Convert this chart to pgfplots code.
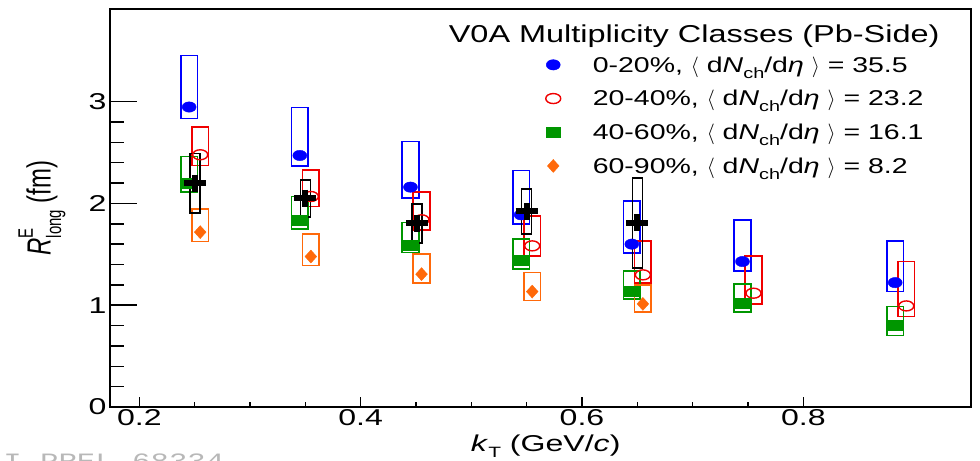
\documentclass[border=0pt]{standalone}
\usepackage{pgfplots}
\pgfplotsset{compat=1.18}
\usepackage{fontspec}
\setmainfont{Liberation Sans}[FakeStretch=1.4]
\newfontfamily\legfont{Liberation Sans}[FakeStretch=1.33]
\newfontfamily\plainsans{Liberation Sans}
\newfontfamily\wmfont{Liberation Mono}[FakeStretch=1.4]
\definecolor{cblue}{RGB}{0,0,255}
\definecolor{cred}{RGB}{240,0,0}
\definecolor{cgreen}{RGB}{0,150,0}
\definecolor{corange}{RGB}{255,105,10}
\newcommand{\sub}[1]{\raisebox{-0.55ex}{\fontsize{15}{15}\selectfont #1}}
\newcommand{\entry}[2]{#1, $\langle$ d\textit{N}\sub{ch}/d\textit{η} $\rangle$ = #2}
\newcommand{\sysbox}[5]{%
  \pgfmathsetmacro{\xl}{#2-#3}\pgfmathsetmacro{\xr}{#2+#3}%
  \edef\doplot{\noexpand\addplot[#1, forget plot, mark=none, line width=1.5bp, line cap=rect, line join=miter] coordinates {(\xl,#4) (\xr,#4) (\xr,#5) (\xl,#5) (\xl,#4)};}%
  \doplot}
\begin{document}
\begin{tikzpicture}
\begin{axis}[name=ax, at={(0,0)}, anchor=south west,
  scale only axis, width=861bp, height=398bp,
  xmin=0.1735, xmax=0.9515, ymin=0, ymax=3.91,
  xtick={0.2,0.4,0.6,0.8}, minor x tick num=3, ytick=\empty,
  tick pos=left, tick align=inside,
  major tick length=10bp, minor tick length=5bp,
  axis line style={line width=1.5bp},
  every tick/.style={black, line width=1.5bp},
  /pgf/number format/assume math mode=true,
  xticklabel style={font=\fontsize{23}{23}\selectfont, yshift=1.5bp},
  xlabel={\textit{k}\sub{T} (GeV/\textit{c})},
  xlabel style={font=\fontsize{23}{23}\selectfont, at={(axis description cs:0.506,-0.1106)}, anchor=base},
  legend cell align=left,
  legend image code/.code={\draw[#1] plot coordinates {(0bp,7bp)};},
  legend style={draw=none, fill=none, at={(axis description cs:0.5061,0.8844)}, anchor=north west,
    inner sep=0pt, outer sep=0pt, row sep=0pt,
    nodes={inner sep=0pt, text height=17bp, text depth=16.7bp, font=\legfont\fontsize{21.5}{21.5}\selectfont},
    /tikz/every odd column/.append style={column sep=32bp}},
]
% systematic boxes
% 0-20%
\sysbox{cblue}{0.245}{0.0075}{2.832}{3.451}
\sysbox{cblue}{0.345}{0.0075}{2.370}{2.943}
\sysbox{cblue}{0.445}{0.0075}{2.055}{2.609}
\sysbox{cblue}{0.545}{0.0075}{1.796}{2.324}
\sysbox{cblue}{0.645}{0.0075}{1.511}{2.026}
\sysbox{cblue}{0.745}{0.0075}{1.337}{1.839}
\sysbox{cblue}{0.883}{0.0075}{1.134}{1.632}
% 20-40%
\sysbox{cred}{0.255}{0.0075}{2.373}{2.750}
\sysbox{cred}{0.355}{0.0075}{1.970}{2.330}
\sysbox{cred}{0.455}{0.0075}{1.740}{2.111}
\sysbox{cred}{0.555}{0.0075}{1.485}{1.878}
\sysbox{cred}{0.655}{0.0075}{1.216}{1.632}
\sysbox{cred}{0.755}{0.0075}{1.013}{1.485}
\sysbox{cred}{0.893}{0.0075}{0.888}{1.429}
% 40-60%
\sysbox{cgreen}{0.245}{0.0075}{2.111}{2.461}
\sysbox{cgreen}{0.345}{0.0075}{1.750}{2.068}
\sysbox{cgreen}{0.445}{0.0075}{1.517}{1.812}
\sysbox{cgreen}{0.545}{0.0075}{1.357}{1.649}
\sysbox{cgreen}{0.645}{0.0075}{1.059}{1.337}
\sysbox{cgreen}{0.745}{0.0075}{0.931}{1.209}
\sysbox{cgreen}{0.883}{0.0075}{0.701}{0.986}
% 60-90%
\sysbox{corange}{0.255}{0.0075}{1.625}{1.947}
\sysbox{corange}{0.355}{0.0075}{1.389}{1.698}
\sysbox{corange}{0.455}{0.0075}{1.216}{1.501}
\sysbox{corange}{0.555}{0.0075}{1.045}{1.321}
\sysbox{corange}{0.655}{0.0075}{0.931}{1.200}
% black
\sysbox{black}{0.2505}{0.0045}{1.905}{2.488}
\sysbox{black}{0.350}{0.0045}{1.865}{2.232}
\sysbox{black}{0.451}{0.0045}{1.610}{1.993}
\sysbox{black}{0.550}{0.0045}{1.698}{2.140}
\sysbox{black}{0.650}{0.0045}{1.364}{2.248}
% points
\addplot[only marks, mark=*, color=cblue, mark size=5.2bp, mark options={xscale=1.35}]
  coordinates {(0.245,2.947) (0.345,2.471) (0.445,2.160) (0.545,1.888) (0.645,1.600) (0.745,1.429) (0.883,1.222)};
\addlegendentry{\entry{0-20\%}{35.5}}
\addplot[only marks, mark=o, color=cred, mark size=5bp, mark options={xscale=1.5, line width=1.4bp}]
  coordinates {(0.255,2.478) (0.355,2.068) (0.455,1.839) (0.555,1.583) (0.655,1.298) (0.755,1.118) (0.893,0.993)};
\addlegendentry{\entry{20-40\%}{23.2}}
\addplot[only marks, mark=square*, color=cgreen, mark size=5bp, mark options={xscale=1.45}]
  coordinates {(0.245,2.200) (0.345,1.839) (0.445,1.593) (0.545,1.445) (0.645,1.134) (0.745,1.020) (0.883,0.806)};
\addlegendentry{\entry{40-60\%}{16.1}}
\addplot[only marks, mark=diamond*, color=corange, mark size=6.5bp, mark options={xscale=1.2}]
  coordinates {(0.255,1.718) (0.355,1.478) (0.455,1.305) (0.555,1.134) (0.655,1.013)};
\addlegendentry{\entry{60-90\%}{8.2}}
\addplot[only marks, forget plot, mark=+, color=black, mark size=8.5bp, mark options={xscale=1.3, line width=6bp}]
  coordinates {(0.2505,2.200) (0.350,2.051) (0.451,1.806) (0.550,1.921) (0.650,1.812)};
\node[anchor=base east, font=\legfont\fontsize{24.5}{24.5}\selectfont] at (axis description cs:0.9675,0.917) {V0A Multiplicity Classes (Pb-Side)};
\end{axis}
\begin{axis}[at={(0,0)}, anchor=south west,
  scale only axis, width=861bp, height=398bp,
  xmin=0.1735, xmax=0.9515, ymin=0, ymax=3.91,
  xtick=\empty, ytick={0,1,2,3}, minor y tick num=4,
  tick pos=left, tick align=inside,
  major tick length=27bp, minor tick length=14bp,
  axis line style={line width=1.5bp},
  every tick/.style={black, line width=1.5bp},
  /pgf/number format/assume math mode=true,
  yticklabel style={font=\fontsize{23}{23}\selectfont},
  ylabel={\scalebox{1}[1.4]{\plainsans\fontsize{24}{24}\selectfont\textit{R}\makebox[0pt][l]{\raisebox{1.0ex}{\fontsize{15}{15}\selectfont E}}\raisebox{-0.6ex}{\fontsize{15}{15}\selectfont long} (fm)}},
  ylabel style={at={(axis description cs:-0.079,0.5)}, anchor=center},
]
\end{axis}
\node[anchor=base west, font=\wmfont\fontsize{22}{22}\selectfont, text=black!28] at ([shift={(-147bp,-61bp)}]ax.south west) {ALI-PREL-68334};
\pgfresetboundingbox
\path[use as bounding box] ([shift={(-110bp,-54bp)}]ax.south west) rectangle ([shift={(9bp,9bp)}]ax.north east);
\end{tikzpicture}
\end{document}
